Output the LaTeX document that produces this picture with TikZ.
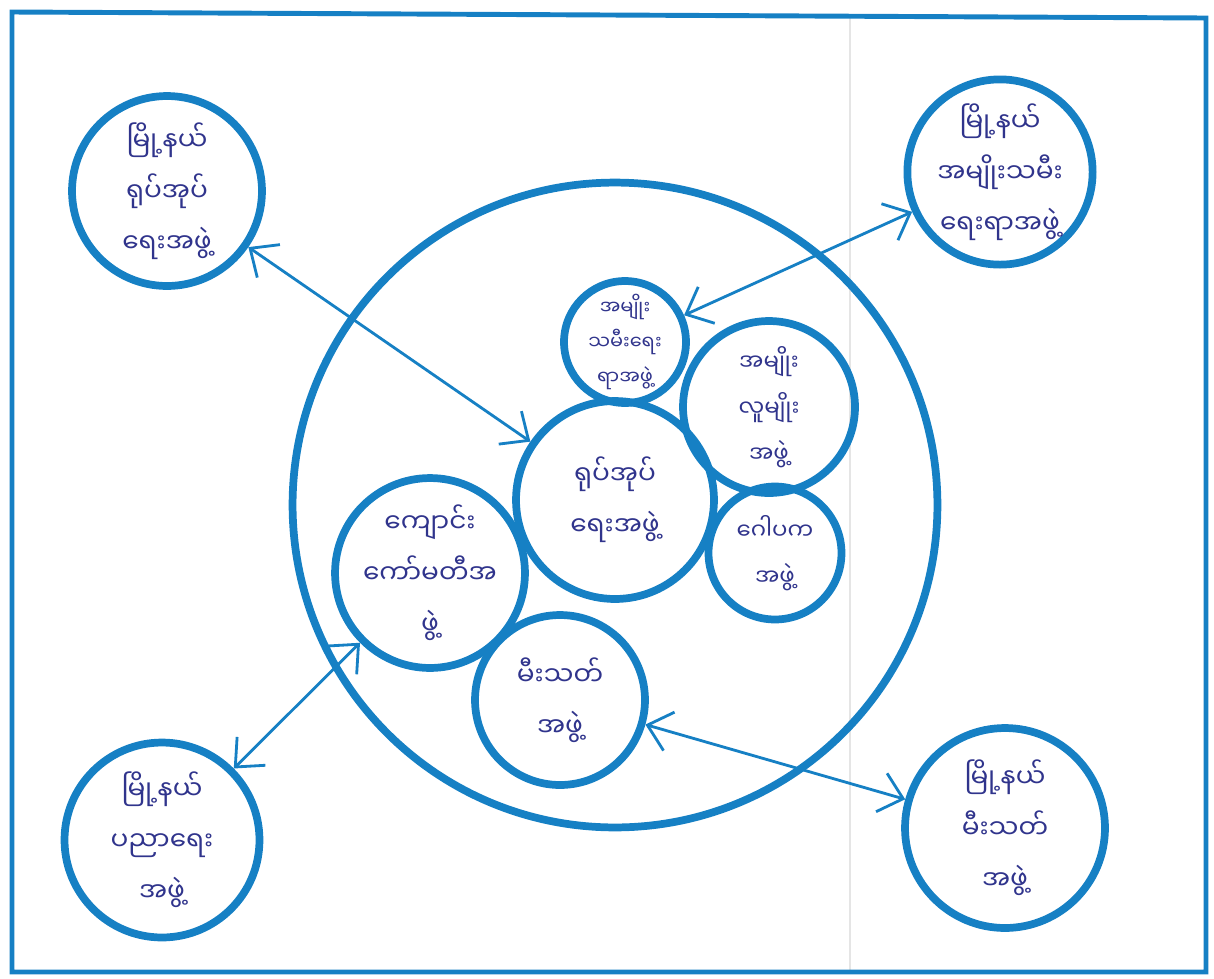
\documentclass[tikz,border=0pt]{standalone}
\usepackage{fontspec}
\newfontfamily\myafont[Script=Myanmar]{Noto Sans Myanmar UI}
\usepackage{tikz}
\usetikzlibrary{positioning, arrows.meta}

\definecolor{penblue}{RGB}{22,128,196}
\definecolor{inkblue}{RGB}{48,52,140}

\tikzset{
  group/.style={circle, draw=penblue, line width=4.4pt, inner sep=0pt,
    align=center, text=inkblue, font=\myafont\fontsize{15}{29}\selectfont},
  smallgroup/.style={group, font=\myafont\fontsize{13}{26}\selectfont},
  tinygroup/.style={group, font=\myafont\fontsize{11}{20}\selectfont},
  conn/.style={draw=penblue, line width=1.6pt,
    {Straight Barb[length=4.5mm,width=8mm]}-{Straight Barb[length=4.5mm,width=8mm]}}
}

\begin{document}
\begin{tikzpicture}[x=0.02cm, y=-0.02cm]
    \useasboundingbox (0,0) rectangle (1214,978);

    % paper fold and frame
    \draw[gray!20, line width=0.6pt] (850,14) -- (850,970);
    \draw[penblue, line width=2.8pt] (12,12) -- (1206,18) -- (1206,972) -- (12,972) -- cycle;

    % big ring
    \node[group, minimum size=12.9cm] (ring) at (615,505) {};

    % groups inside the ring
    \node[group, minimum size=3.96cm] (adm) at (615,500) {ရုပ်အုပ်\\ရေးအဖွဲ့};
    \node[tinygroup, minimum size=2.44cm] (wmn) at (625,342) {အမျိုး\\သမီးရေး\\ရာအဖွဲ့};
    \node[smallgroup, minimum size=3.44cm] (yth) at (769,407) {အမျိုး\\လူမျိုး\\အဖွဲ့};
    \node[smallgroup, minimum size=2.66cm] (gpk) at (775,553) {ဂေါပက\\အဖွဲ့};
    \node[group, minimum size=3.7cm] (sch) at (430,573) {ကျောင်း\\ကော်မတီအ\\ဖွဲ့};
    \node[group, minimum size=3.4cm] (fire) at (560,700) {မီးသတ်\\အဖွဲ့};

    % township groups
    \node[group, minimum size=3.8cm] (tl) at (167,191) {မြို့နယ်\\ရုပ်အုပ်\\ရေးအဖွဲ့};
    \node[group, minimum size=3.7cm] (tr) at (1000,172) {မြို့နယ်\\အမျိုးသမီး\\ရေးရာအဖွဲ့};
    \node[group, minimum size=3.9cm] (bl) at (162,840) {မြို့နယ်\\ပညာရေး\\အဖွဲ့};
    \node[group, minimum size=4.0cm] (br) at (1005,828) {မြို့နယ်\\မီးသတ်\\အဖွဲ့};

    % links
    \draw[conn] (tl) -- (adm);
    \draw[conn] (tr) -- (wmn);
    \draw[conn] (bl) -- (sch);
    \draw[conn] (br) -- (fire);
\end{tikzpicture}
\end{document}
